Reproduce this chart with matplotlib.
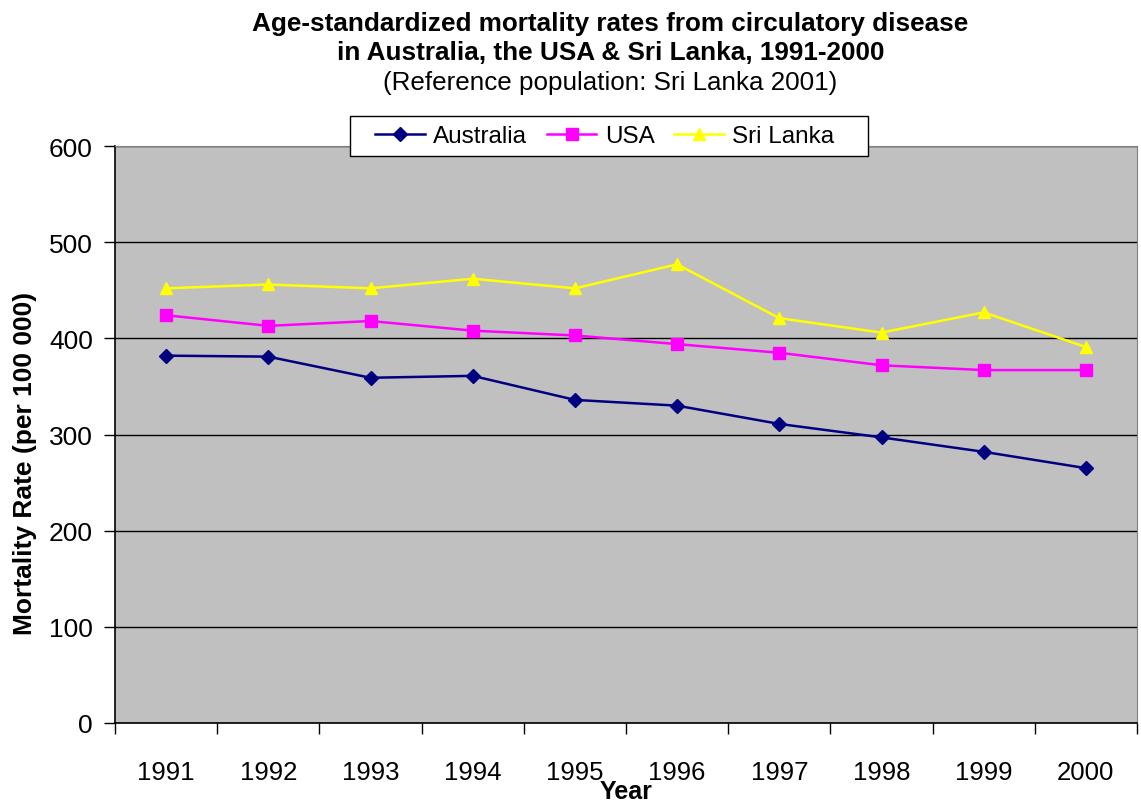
import matplotlib
matplotlib.use("Agg")
import matplotlib.pyplot as plt
from matplotlib.patches import Rectangle
import numpy as np

plt.rcParams["font.family"] = ["Liberation Sans", "DejaVu Sans"]

years = ["1991", "1992", "1993", "1994", "1995", "1996", "1997", "1998", "1999", "2000"]
australia = [382, 381, 359, 361, 336, 330, 311, 297, 282, 265]
usa = [424, 413, 418, 408, 403, 394, 385, 372, 367, 367]
sri_lanka = [452, 456, 452, 462, 452, 477, 421, 406, 427, 391]

fig = plt.figure(figsize=(11.41, 8.03), dpi=100)
ax = fig.add_axes([0.1008, 0.0984, 0.8957, 0.7185])
ax.set_facecolor("#c0c0c0")

x = np.arange(len(years))
ax.plot(x, australia, color="#000080", marker="D", markersize=7, lw=1.8, label="Australia")
ax.plot(x, usa, color="#ff00ff", marker="s", markersize=9, lw=1.8, label="USA")
ax.plot(x, sri_lanka, color="#ffff00", marker="^", markersize=9, lw=1.8, label="Sri Lanka")

ax.set_xlim(-0.5, len(years) - 0.5)
ax.set_ylim(0, 600)
ax.set_yticks(range(0, 601, 100))
ax.yaxis.grid(True, color="black", lw=1)
ax.set_axisbelow(True)

ax.set_xticks(x)
ax.set_xticklabels(years)
ax.set_xticks(np.arange(-0.5, len(years), 1), minor=True)
ax.tick_params(axis="x", which="major", length=0, pad=27, labelsize=18.5)
ax.tick_params(axis="x", which="minor", length=8, width=1)
ax.tick_params(axis="y", length=8, width=1, labelsize=19, pad=8)

for side in ["top", "right"]:
    ax.spines[side].set_color("#808080")
for side in ["left", "bottom"]:
    ax.spines[side].set_color("black")
    ax.spines[side].set_linewidth(1.2)

ax.set_xlabel("Year", fontsize=18, fontweight="bold", labelpad=-4)
ax.set_ylabel("Mortality Rate (per 100 000)", fontsize=19, fontweight="bold")
ax.yaxis.set_label_coords(-0.076, 0.452)

fig.text(0.535, 0.970, "Age-standardized mortality rates from circulatory disease",
         ha="center", va="center", fontsize=18.8, fontweight="bold")
fig.text(0.535, 0.934, "in Australia, the USA & Sri Lanka, 1991-2000",
         ha="center", va="center", fontsize=18.8, fontweight="bold")
fig.text(0.535, 0.897, "(Reference population: Sri Lanka 2001)",
         ha="center", va="center", fontsize=18.7)

# legend frame drawn separately, it is wider than the entries
fig.patches.append(Rectangle((0.3067, 0.8045), 0.454, 0.0498, transform=fig.transFigure,
                             facecolor="white", edgecolor="black", lw=1, zorder=3))
leg = fig.legend(loc="center", bbox_to_anchor=(0.530, 0.829), ncol=3, fontsize=17.5,
                 frameon=False, handlelength=2.05, columnspacing=0.8,
                 handletextpad=0.35, borderpad=0.35)
leg.set_zorder(4)

fig.savefig("out.png", dpi=100)
